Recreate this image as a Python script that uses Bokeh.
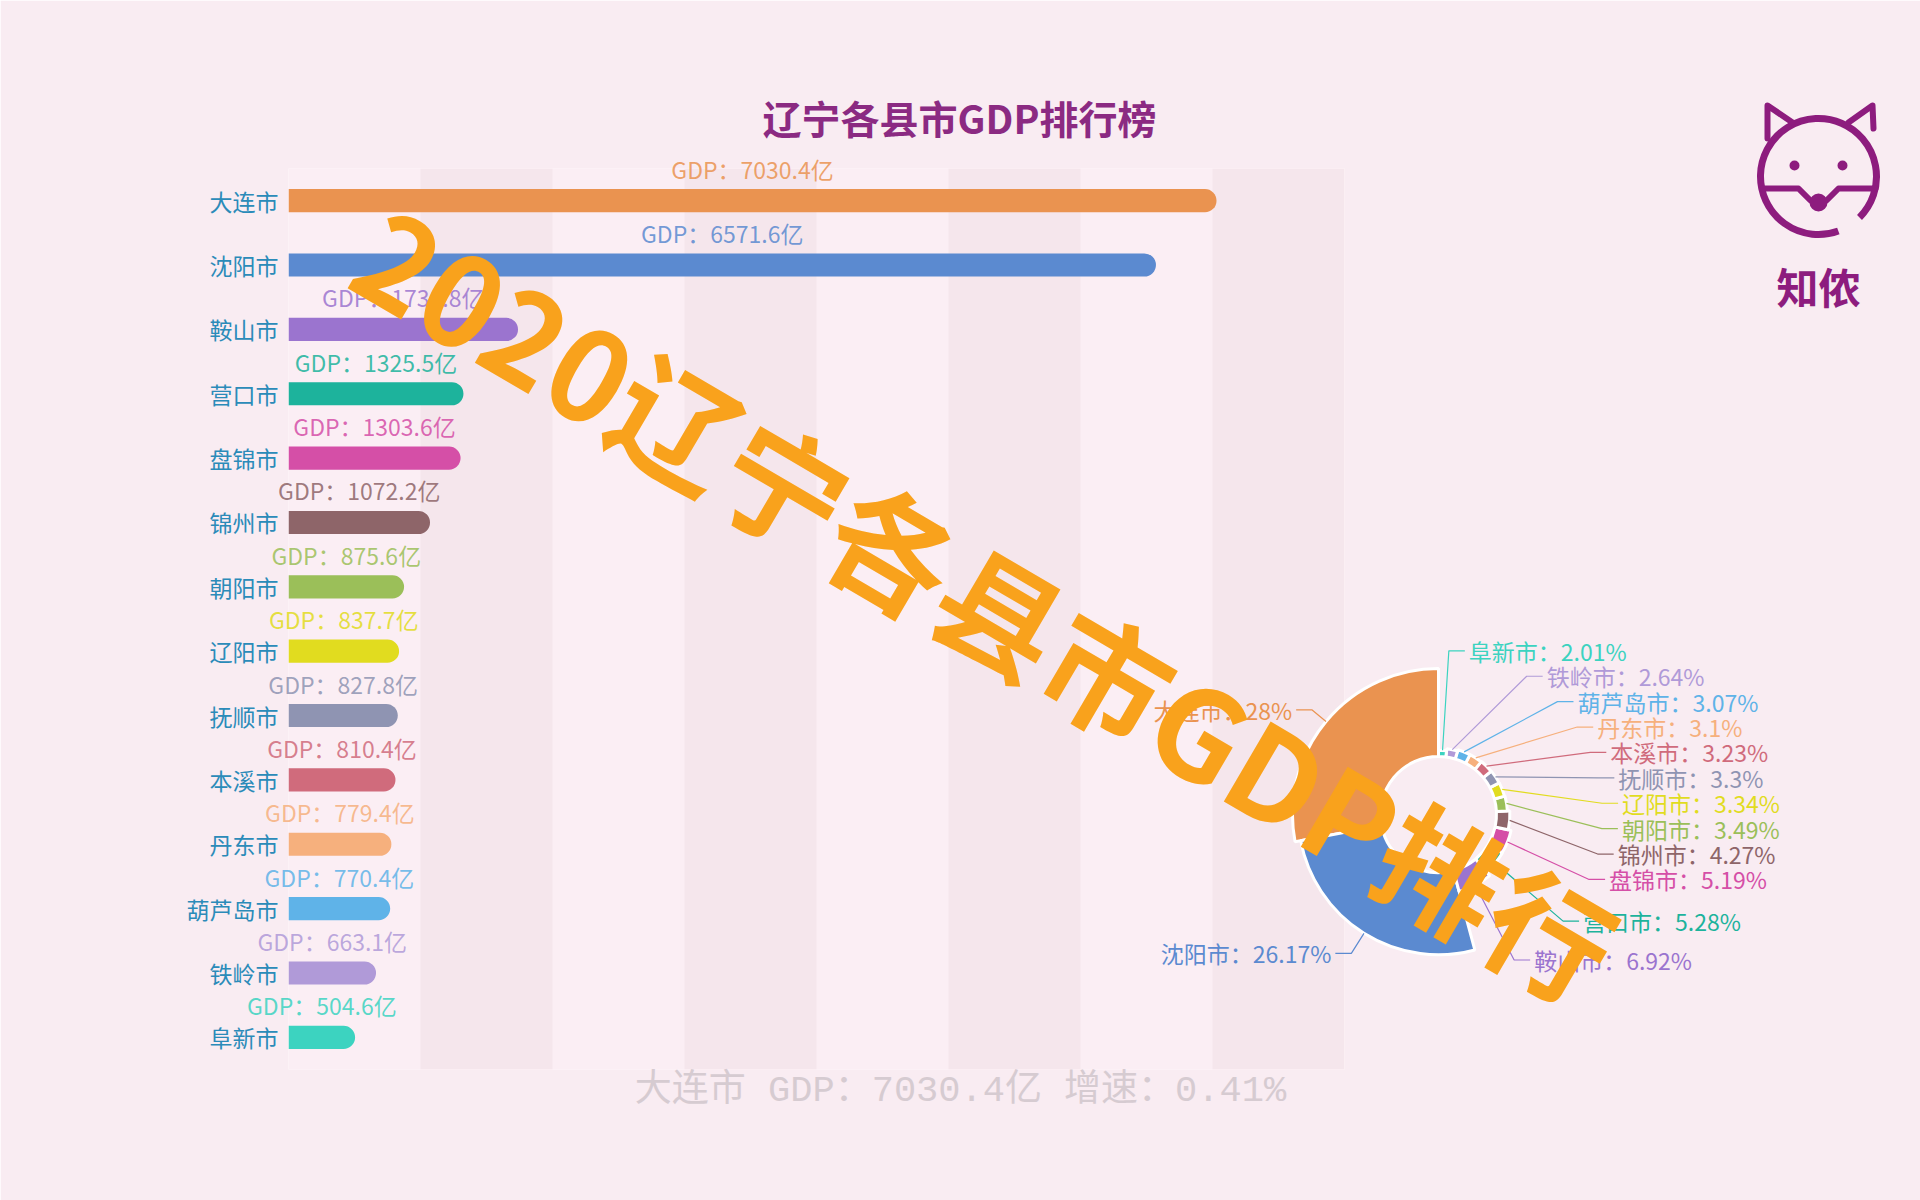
import math
from bokeh.plotting import figure
from bokeh.models import Range1d, FixedTicker, ColumnDataSource
from bokeh.core.properties import value
from bokeh.embed import file_html
from bokeh.resources import INLINE

# ---------------- data ----------------
cities = ["大连市", "沈阳市", "鞍山市", "营口市", "盘锦市", "锦州市", "朝阳市",
          "辽阳市", "抚顺市", "本溪市", "丹东市", "葫芦岛市", "铁岭市", "阜新市"]
gdp = [7030.4, 6571.6, 1738.8, 1325.5, 1303.6, 1072.2, 875.6,
       837.7, 827.8, 810.4, 779.4, 770.4, 663.1, 504.6]
colors = ["#ea9350", "#5b8ad0", "#9b74cf", "#1db39c", "#d54fa7", "#8e6569", "#9bbf59",
          "#e1dc1f", "#8f94b2", "#d06b7c", "#f6b07d", "#5fb3e8", "#b09ad8", "#3cd3c0"]
x_ticks = [0, 1000, 2000, 3000, 4000, 5000, 6000, 7000, 8000]
title_text = "辽宁各县市GDP排行榜"
watermark_text = "2020辽宁各县市GDP排行"
lead_growth = "0.41%"
logo_text = "知侬"

FONT = "Noto Sans CJK SC"
BG = "#f9ecf2"

# ---------------- layout (canvas pixels) ----------------
W, H = 1920, 1200
FL, FR, FT, FB = 288, 1344, 168, 1069
n = len(cities)
idx = list(range(n))

p = figure(width=W, height=H, output_backend="svg", toolbar_location=None,
           x_range=Range1d(0, 8000), y_range=Range1d(n - 0.5, -0.5),
           min_border_left=FL, min_border_right=W - FR,
           min_border_top=FT, min_border_bottom=H - FB)
p.title.visible = False
p.outline_line_color = None
p.background_fill_color = "#fbeef4"
p.border_fill_color = BG
p.extra_x_ranges = {"px": Range1d(FL, FR)}
p.extra_y_ranges = {"py": Range1d(FB, FT)}

p.xaxis.visible = False
p.xgrid.ticker = FixedTicker(ticks=x_ticks)
p.xgrid.grid_line_color = None
p.xgrid.band_fill_color = "#f5e6ec"
p.xgrid.band_fill_alpha = 1.0
p.ygrid.grid_line_color = None

ax = p.yaxis[0]
ax.ticker = FixedTicker(ticks=idx)
ax.major_label_overrides = {i: c for i, c in zip(idx, cities)}
ax.axis_line_color = None
ax.major_tick_line_color = None
ax.minor_tick_line_color = None
ax.major_label_text_font = FONT
ax.major_label_text_font_size = "23px"
ax.major_label_text_color = "#2b8bb9"
ax.major_label_standoff = 4

OV = dict(x_range_name="px", y_range_name="py", level="overlay")

# ---------------- bars ----------------
src = ColumnDataSource(dict(
    pos=idx, gdp=gdp, color=colors,
    mid=[v / 2 for v in gdp],
    lab=[f"GDP：{v}亿" for v in gdp],
))
p.hbar(y="pos", left=0, right="gdp", height=0.36, fill_color="color",
       line_color=None, border_radius=(0, 12, 12, 0), source=src)
p.text(x="mid", y="pos", text="lab", source=src, y_offset=-32,
       text_align="center", text_baseline="middle", text_color="color",
       text_alpha=0.85, text_font=value(FONT), text_font_size="23px", level="overlay")

# ---------------- title ----------------
p.text(x=[959], y=[116], text=[title_text], text_align="center", text_baseline="middle",
       text_color="#8b2a82", text_font=value(FONT), text_font_style="bold",
       text_font_size="39px", **OV)

# ---------------- rose pie ----------------
total = sum(gdp)
vmax = max(gdp)
CX, CY = 1438, 814
R_OUT, R_IN = 146, 58
R_LAB = 164
LEN2 = 16
LINE_H = 25.4

starts, ends, radii, mids = [], [], [], []
cum = 0.0
for v in gdp:
    a0 = math.pi / 2 + 2 * math.pi * cum / total
    cum += v
    a1 = math.pi / 2 + 2 * math.pi * cum / total
    starts.append(a0)
    ends.append(a1)
    mids.append((a0 + a1) / 2)
    radii.append(R_IN + (R_OUT - R_IN) * v / vmax)

p.annular_wedge(x=CX, y=CY, inner_radius=R_IN, outer_radius=radii,
                inner_radius_units="screen", outer_radius_units="screen",
                start_angle=starts, end_angle=ends, direction="anticlock",
                fill_color=colors, line_color="white", line_width=3, **OV)

# label layout (echarts-like: natural position, then pushed apart vertically)
labels = [f"{c}：{round(v / total * 100, 2):g}%" for c, v in zip(cities, gdp)]
items = []
for i, a in enumerate(mids):
    side = 1 if math.cos(a) >= 0 else -1
    ny = CY - R_LAB * math.sin(a)
    items.append(dict(i=i, side=side, y=ny, a=a))

for side in (1, -1):
    grp = sorted([it for it in items if it["side"] == side], key=lambda d: d["y"])
    prev = None
    for it in grp:
        if prev is not None and it["y"] < prev + LINE_H:
            it["y"] = prev + LINE_H
        prev = it["y"]

line_xs, line_ys, line_cols = [], [], []
rt = dict(x=[], y=[], text=[], color=[])
lt = dict(x=[], y=[], text=[], color=[])
for it in items:
    i, a, side, y = it["i"], it["a"], it["side"], it["y"]
    x1 = CX + radii[i] * math.cos(a)
    y1 = CY - radii[i] * math.sin(a)
    dy = y - CY
    if abs(dy) < R_LAB:
        x2 = CX + side * math.sqrt(R_LAB ** 2 - dy ** 2)
    else:
        x2 = CX + R_LAB * math.cos(a)
    x3 = x2 + side * LEN2
    line_xs.append([x1, x2, x3])
    line_ys.append([y1, y, y])
    line_cols.append(colors[i])
    d = rt if side > 0 else lt
    d["x"].append(x3 + side * 4)
    d["y"].append(y)
    d["text"].append(labels[i])
    d["color"].append(colors[i])

p.multi_line(xs=line_xs, ys=line_ys, line_color=line_cols, line_width=1.2, **OV)
p.text(x="x", y="y", text="text", text_color="color", source=ColumnDataSource(rt),
       text_align="left", text_baseline="middle", text_font=value(FONT),
       text_font_size="23px", **OV)
p.text(x="x", y="y", text="text", text_color="color", source=ColumnDataSource(lt),
       text_align="right", text_baseline="middle", text_font=value(FONT),
       text_font_size="23px", **OV)

# ---------------- bottom caption ----------------
caption = f"{cities[0]} GDP：{gdp[0]}亿 增速：{lead_growth}"
p.text(x=[960], y=[1090], text=[caption], text_align="center", text_baseline="middle",
       text_color="#d6cbd1", text_font=value("'Liberation Mono', 'Noto Sans CJK SC'"),
       text_font_size="37px", **OV)

# ---------------- logo ----------------
LC = "#8d1c7e"
LX, LY = 1818, 176
p.arc(x=[LX], y=[LY], radius=58, radius_units="screen",
      start_angle=math.radians(-45), end_angle=math.radians(290), direction="anticlock",
      line_color=LC, line_width=7, **OV)
p.multi_line(xs=[[LX - 51, LX - 51, LX - 26], [LX + 55, LX + 54, LX + 30],
                 [LX - 56, LX - 20, LX - 8], [LX + 8, LX + 20, LX + 57]],
             ys=[[LY - 38, LY - 71, LY - 54], [LY - 48, LY - 71, LY - 54],
                 [LY + 12, LY + 12, LY + 24], [LY + 24, LY + 12, LY + 12]],
             line_color=LC, line_width=6, line_cap="round", line_join="round", **OV)
p.wedge(x=[LX - 24, LX + 24, LX], y=[LY - 11, LY - 11, LY + 26], radius=[5, 5, 9],
        radius_units="screen", start_angle=0, end_angle=2 * math.pi,
        fill_color=LC, line_color=None, **OV)
p.text(x=[LX], y=[285], text=[logo_text], text_align="center", text_baseline="middle",
       text_color=LC, text_font=value(FONT), text_font_style="bold",
       text_font_size="42px", **OV)

# ---------------- watermark ----------------
p.text(x=[988], y=[600], text=[watermark_text], angle=-0.53,
       text_align="center", text_baseline="middle", text_color="#f9a21c",
       text_font=value(FONT), text_font_style="bold", text_font_size="125px", **OV)

open("out.html", "w").write(file_html(p, INLINE))
